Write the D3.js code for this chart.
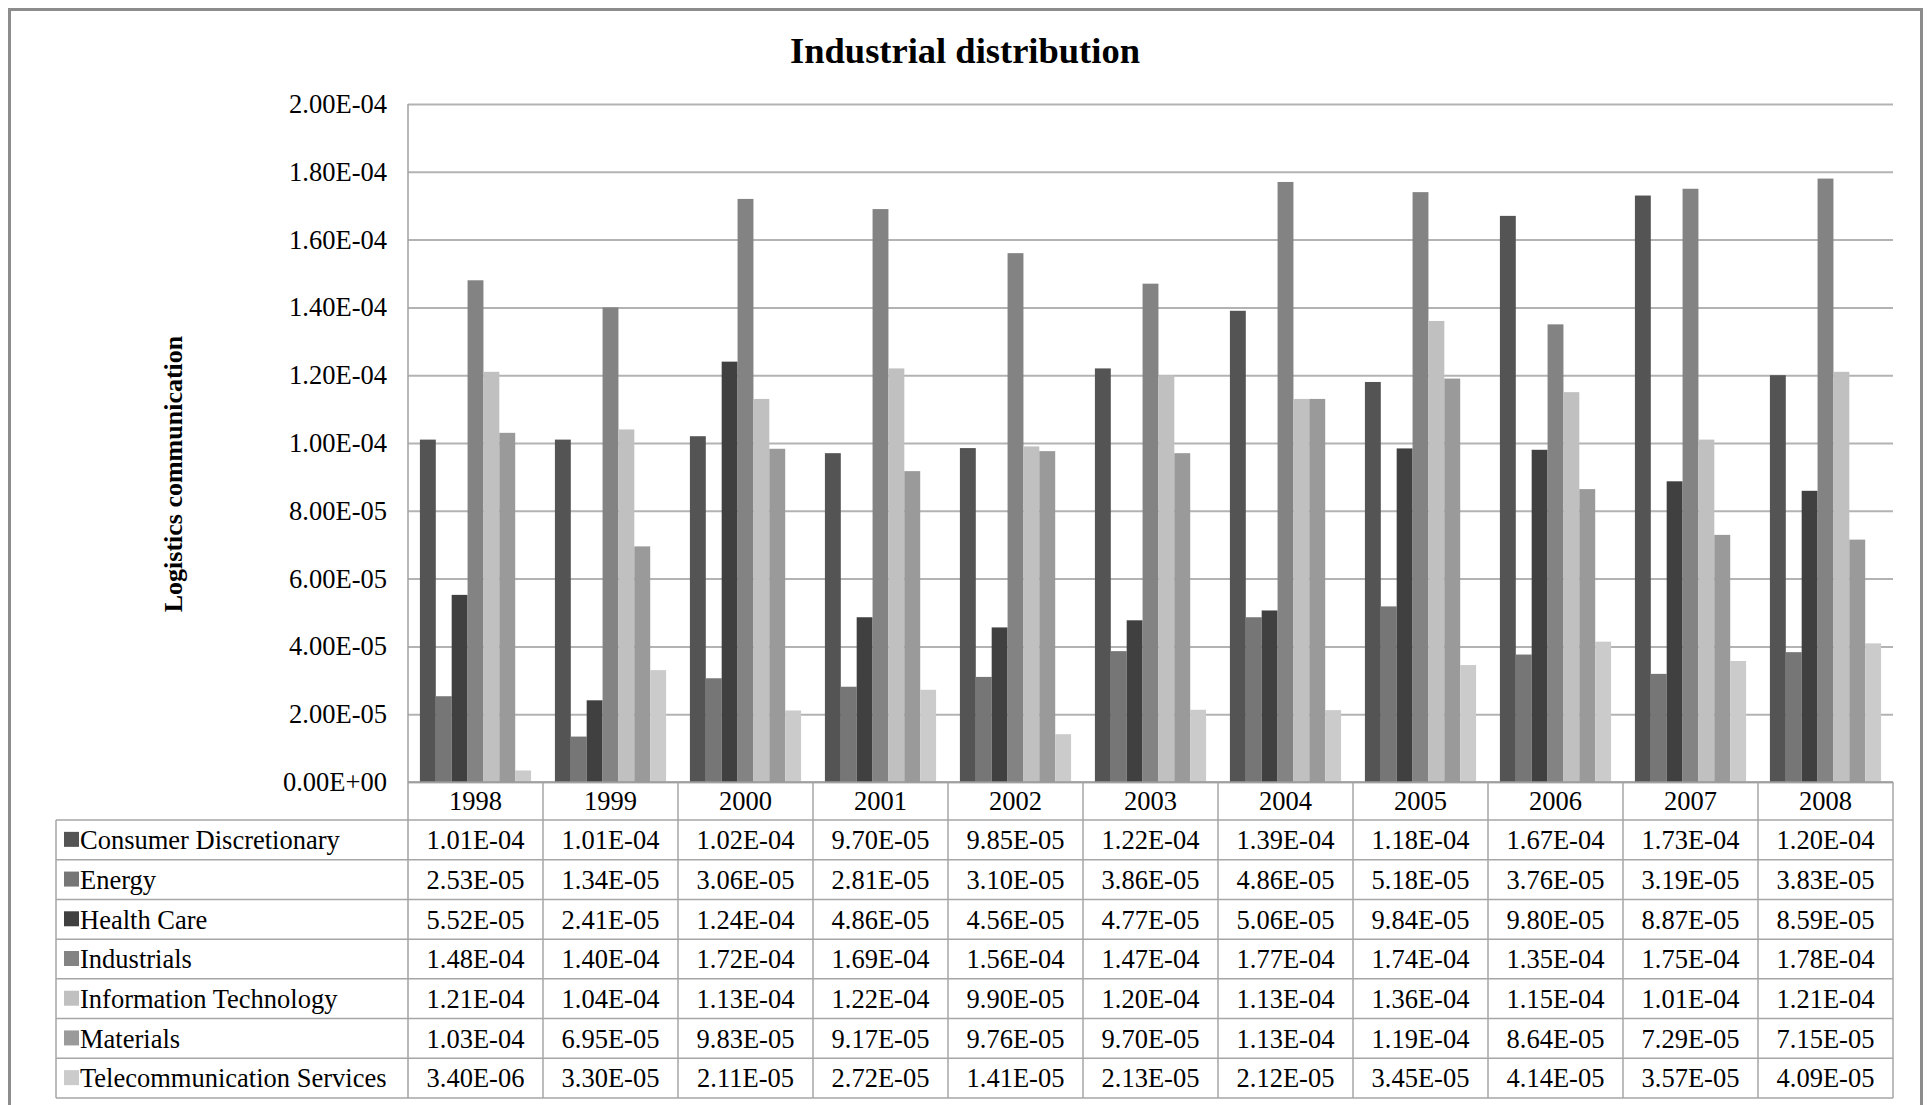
<!DOCTYPE html>
<html><head><meta charset="utf-8">
<script src="https://cdn.jsdelivr.net/npm/d3@7"></script>
<style>body{margin:0;background:#fff;overflow:hidden} svg{display:block}</style>
</head><body>
<svg id="c" width="1927" height="1105"></svg>
<script>
const years = ["1998","1999","2000","2001","2002","2003","2004","2005","2006","2007","2008"];
const seriesNames = ["Consumer Discretionary","Energy","Health Care","Industrials","Information Technology","Materials","Telecommunication Services"];
const consumerDiscretionary = [1.01e-4,1.01e-4,1.02e-4,9.70e-5,9.85e-5,1.22e-4,1.39e-4,1.18e-4,1.67e-4,1.73e-4,1.20e-4];
const energy = [2.53e-5,1.34e-5,3.06e-5,2.81e-5,3.10e-5,3.86e-5,4.86e-5,5.18e-5,3.76e-5,3.19e-5,3.83e-5];
const healthCare = [5.52e-5,2.41e-5,1.24e-4,4.86e-5,4.56e-5,4.77e-5,5.06e-5,9.84e-5,9.80e-5,8.87e-5,8.59e-5];
const industrials = [1.48e-4,1.40e-4,1.72e-4,1.69e-4,1.56e-4,1.47e-4,1.77e-4,1.74e-4,1.35e-4,1.75e-4,1.78e-4];
const informationTechnology = [1.21e-4,1.04e-4,1.13e-4,1.22e-4,9.90e-5,1.20e-4,1.13e-4,1.36e-4,1.15e-4,1.01e-4,1.21e-4];
const materials = [1.03e-4,6.95e-5,9.83e-5,9.17e-5,9.76e-5,9.70e-5,1.13e-4,1.19e-4,8.64e-5,7.29e-5,7.15e-5];
const telecommunicationServices = [3.40e-6,3.30e-5,2.11e-5,2.72e-5,1.41e-5,2.13e-5,2.12e-5,3.45e-5,4.14e-5,3.57e-5,4.09e-5];
const yTicks = [0,0.00002,0.00004,0.00006,0.00008,0.0001,0.00012,0.00014,0.00016,0.00018,0.0002];
const seriesColors = ["#545454","#767676","#404040","#838383","#c0c0c0","#9a9a9a","#cbcbcb"];

const seriesValues = [consumerDiscretionary,energy,healthCare,industrials,informationTechnology,materials,telecommunicationServices];
const series = seriesNames.map((n,i)=>({name:n, values:seriesValues[i], color:seriesColors[i]}));

function fmt(v){
  const s = v.toExponential(2);
  let [m,e] = s.split('e');
  const sign = e[0];
  let n = e.slice(1);
  if(n.length<2) n = '0'+n;
  return m+'E'+sign+n;
}

const FONT = "'Liberation Serif','Times New Roman',serif";
const svg = d3.select("#c");
const plotLeft=408, plotRight=1893, plotTop=104, plotBottom=782;
const tableLeft=56, headerBottom=820, tableBottom=1098;
const rowH = (tableBottom-headerBottom)/seriesNames.length;
const lineColor = "#a6a6a6";

const x = d3.scaleBand().domain(years).range([plotLeft,plotRight]).paddingInner(0).paddingOuter(0);
const xi = d3.scaleBand().domain(seriesNames).range([0,x.bandwidth()]).paddingInner(0).paddingOuter(0.75);
const y = d3.scaleLinear().domain([0,0.0002]).range([plotBottom,plotTop]);

// outer border
svg.append("rect").attr("x",9.5).attr("y",9.5).attr("width",1912).attr("height",1200)
  .attr("fill","none").attr("stroke","#8c8c8c").attr("stroke-width",3);

// title
svg.append("text").attr("x",965).attr("y",63).attr("text-anchor","middle")
  .attr("font-family",FONT).attr("font-weight","bold").attr("font-size",36.5).text("Industrial distribution");

// gridlines
const grid = svg.append("g").attr("transform",`translate(${plotLeft},0)`)
  .call(d3.axisLeft(y).tickValues(yTicks).tickSize(-(plotRight-plotLeft)).tickFormat(""));
grid.select(".domain").remove();
grid.selectAll(".tick line").attr("stroke","#b3b3b3").attr("stroke-width",2);

// y labels
const yAx = svg.append("g").attr("transform",`translate(${plotLeft},0)`)
  .call(d3.axisLeft(y).tickValues(yTicks).tickSize(0).tickPadding(21).tickFormat(fmt));
yAx.select(".domain").remove();
yAx.selectAll("text").attr("font-family",FONT).attr("font-size",26.5).attr("fill","#000");

// y title
svg.append("text").attr("transform",`translate(182,474) rotate(-90)`).attr("text-anchor","middle")
  .attr("font-family",FONT).attr("font-weight","bold").attr("font-size",26).text("Logistics communication");

// bars
const groups = svg.append("g").selectAll("g").data(years).join("g")
  .attr("transform",d=>`translate(${x(d)},0)`);
groups.selectAll("rect").data((d,j)=>series.map(s=>({name:s.name,color:s.color,v:s.values[j]}))).join("rect")
  .attr("x",d=>xi(d.name)).attr("width",xi.bandwidth())
  .attr("y",d=>y(d.v)).attr("height",d=>y(0)-y(d.v)).attr("fill",d=>d.color);

// table lines
const tl = svg.append("g").attr("stroke",lineColor).attr("stroke-width",1.5).attr("fill","none");
tl.append("line").attr("x1",plotLeft).attr("x2",plotRight).attr("y1",plotBottom).attr("y2",plotBottom).attr("stroke","#999");
for(let i=0;i<=seriesNames.length;i++){
  const yy = headerBottom + i*rowH;
  tl.append("line").attr("x1",tableLeft).attr("x2",plotRight).attr("y1",yy).attr("y2",yy);
}
tl.append("line").attr("x1",tableLeft).attr("x2",tableLeft).attr("y1",headerBottom).attr("y2",tableBottom);
years.forEach(yr=>{
  const xx = x(yr)+x.bandwidth();
  tl.append("line").attr("x1",xx).attr("x2",xx).attr("y1",plotBottom).attr("y2",tableBottom);
});
// axis line
svg.append("line").attr("x1",plotLeft).attr("x2",plotLeft).attr("y1",plotTop).attr("y2",tableBottom)
  .attr("stroke","#a0a0a0").attr("stroke-width",1.5);

// header years
svg.append("g").selectAll("text").data(years).join("text")
  .attr("x",d=>x(d)+x.bandwidth()/2).attr("y",(plotBottom+headerBottom)/2).attr("dy","0.35em")
  .attr("text-anchor","middle").attr("font-family",FONT).attr("font-size",26.5).text(d=>d);

// rows
const rows = svg.append("g").selectAll("g").data(series).join("g")
  .attr("transform",(d,i)=>`translate(0,${headerBottom+i*rowH+rowH/2})`);
rows.append("rect").attr("x",64).attr("y",-8).attr("width",15).attr("height",15).attr("fill",d=>d.color);
rows.append("text").attr("x",80).attr("dy","0.35em").attr("font-family",FONT).attr("font-size",26.5).text(d=>d.name);
rows.selectAll("text.v").data(d=>d.values.map((v,j)=>({v,yr:years[j]}))).join("text").attr("class","v")
  .attr("x",d=>x(d.yr)+x.bandwidth()/2).attr("dy","0.35em").attr("text-anchor","middle")
  .attr("font-family",FONT).attr("font-size",26.5).text(d=>fmt(d.v));
</script>
</body></html>
